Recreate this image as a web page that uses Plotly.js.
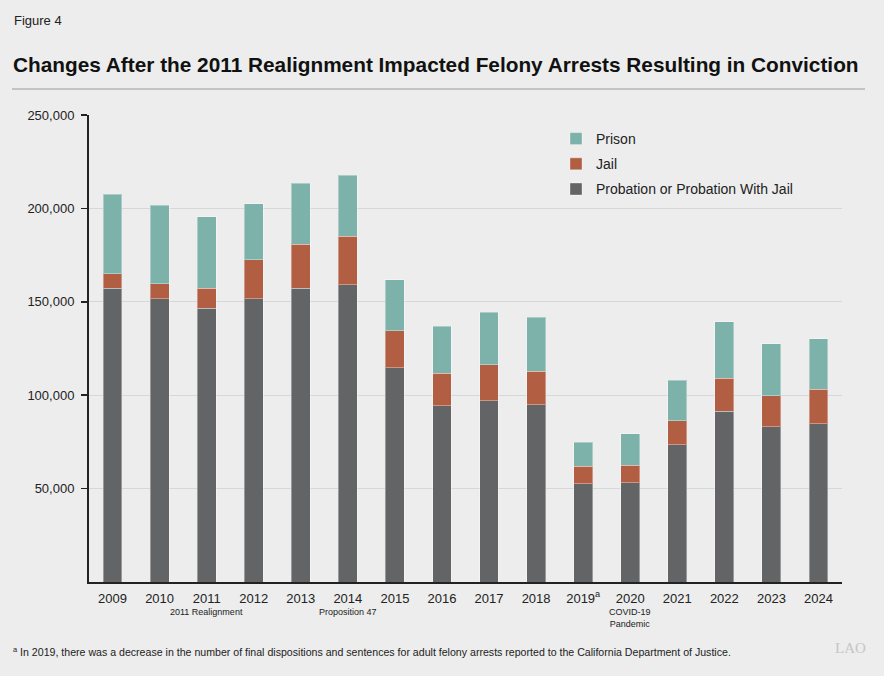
<!DOCTYPE html>
<html>
<head>
<meta charset="utf-8">
<script src="https://cdn.plot.ly/plotly-3.0.1.min.js"></script>
<style>html,body{margin:0;padding:0;background:#ecedec;}</style>
</head>
<body>
<div id="chart" style="width:884px;height:676px;"></div>
<script>
const years = ['2009','2010','2011','2012','2013','2014','2015','2016','2017','2018','2019','2020','2021','2022','2023','2024'];
const yearLabels = ['2009','2010','2011','2012','2013','2014','2015','2016','2017','2018','2019<sup>a</sup>','2020','2021','2022','2023','2024'];
const probation = [157200,151700,146500,151700,157200,159200,114700,94400,96900,94900,52600,53200,73500,91400,83000,84700];
const jail = [7800,8000,10700,20700,23700,26000,19700,17300,19300,18000,9500,9400,12900,17800,16600,18600];
const prison = [42500,42100,38400,30100,32500,32500,27400,25300,28200,28800,12700,16800,21600,30000,28000,26800];
const yTicks = [50000,100000,150000,200000,250000];
const yTickText = ['50,000','100,000','150,000','200,000','250,000'];
const eventNotes = [{year:'2011', text:'2011 Realignment'},{year:'2014', text:'Proposition 47'},{year:'2020', text:'COVID-19<br>Pandemic'}];

const W = 884, H = 676, mL = 89, mR = 42, mT = 115, mB = 94;
const plotH = H - mT - mB, plotW = W - mL - mR;
const py = p => (H - mB - p) / plotH;
const px = p => (p - mL) / plotW;
const font = 'Liberation Sans, Arial, Helvetica, sans-serif';

const mk = (name, vals, color, rank) => ({
  type:'bar', name:name, x:years, y:vals,
  marker:{color:color, line:{color:'rgba(255,255,255,0.35)', width:1}},
  legendgroup:name, legendrank:rank, hoverinfo:'y'
});
const data = [
  mk('Probation or Probation With Jail', probation, '#636466', 3),
  mk('Jail', jail, '#b25e43', 2),
  mk('Prison', prison, '#7db2aa', 1)
];

const annotations = [
  {xref:'paper', yref:'paper', x:px(12), y:py(20), xanchor:'left', yanchor:'middle', text:'Figure 4', showarrow:false, font:{family:font, size:13, color:'#222'}},
  {xref:'paper', yref:'paper', x:px(11), y:py(64), xanchor:'left', yanchor:'middle', text:'<b>Changes After the 2011 Realignment Impacted Felony Arrests Resulting in Conviction</b>', showarrow:false, font:{family:font, size:20.8, color:'#111'}},
  {xref:'paper', yref:'paper', x:px(11), y:py(651), xanchor:'left', yanchor:'middle', text:'<sup>a</sup> In 2019, there was a decrease in the number of final dispositions and sentences for adult felony arrests reported to the California Department of Justice.', showarrow:false, font:{family:font, size:10.6, color:'#222'}},
  {xref:'paper', yref:'paper', x:px(868), y:py(648), xanchor:'right', yanchor:'middle', text:'LAO', showarrow:false, font:{family:'Liberation Serif, serif', size:15, color:'#c4c6c6'}}
];
eventNotes.forEach(e => annotations.push({
  xref:'x', yref:'paper', x:years.indexOf(e.year), y:py(605), xanchor:'center', yanchor:'top', text:e.text, showarrow:false,
  font:{family:font, size:9, color:'#222'}
}));

const layout = {
  width:W, height:H,
  paper_bgcolor:'#ecedec', plot_bgcolor:'#ecedec',
  margin:{l:mL, r:mR, t:mT, b:mB, pad:0},
  barmode:'stack', bargap:0.6,
  font:{family:font, size:13, color:'#222'},
  showlegend:true,
  legend:{x:px(556), y:py(123), xanchor:'left', yanchor:'top', traceorder:'grouped', tracegroupgap:4,
    font:{family:font, size:14, color:'#222'}, bgcolor:'rgba(0,0,0,0)', itemwidth:30},
  xaxis:{type:'category', range:[-0.5, years.length - 0.5], tickvals:years, ticktext:yearLabels, showline:true, linecolor:'#222', linewidth:2,
    ticks:'', tickfont:{family:font, size:13, color:'#222'}, showgrid:false, fixedrange:true, ticklabelstandoff:3},
  yaxis:{range:[0,250000], tickvals:yTicks, ticktext:yTickText, showline:true, linecolor:'#222', linewidth:2,
    ticks:'outside', ticklen:6, tickcolor:'#222', tickwidth:1.5, showgrid:true, gridcolor:'#d6d8d8', gridwidth:1,
    zeroline:false, tickfont:{family:font, size:13, color:'#222'}, ticklabelstandoff:4},
  shapes:[{type:'line', xref:'paper', yref:'paper', x0:px(12), x1:px(865), y0:py(89), y1:py(89), line:{color:'#9a9a9a', width:1.2}}],
  annotations:annotations
};
Plotly.newPlot('chart', data, layout, {displayModeBar:false, staticPlot:true});
</script>
</body>
</html>
